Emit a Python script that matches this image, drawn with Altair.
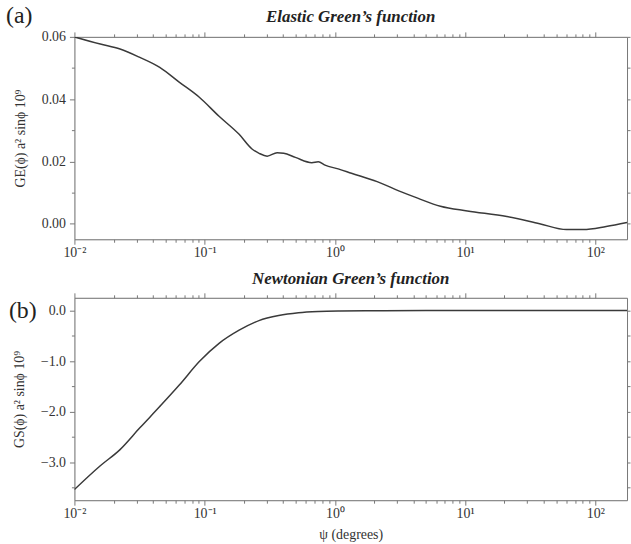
import altair as alt
import pandas as pd

# ---- data ----
ge_psi = [0.01, 0.0158, 0.0224, 0.0318, 0.0452, 0.0641, 0.091, 0.129, 0.184, 0.231,
          0.262, 0.302, 0.36, 0.405, 0.497, 0.665, 0.746, 0.84, 1.06, 1.34, 2.11,
          3.2, 4.32, 6.46, 10.4, 20.9, 37.3, 60, 80.7, 121, 175]
ge_val = [0.0600, 0.0577, 0.0561, 0.0534, 0.0502, 0.0454, 0.0406, 0.0345, 0.0287, 0.0240,
          0.0226, 0.0217, 0.0228, 0.0226, 0.0213, 0.0196, 0.0199, 0.0188, 0.0176, 0.0162,
          0.0135, 0.0103, 0.0082, 0.0056, 0.0041, 0.0023, 0.0000, -0.0019, -0.0019,
          -0.0009, 0.0004]

gs_psi = [0.01, 0.0158, 0.0224, 0.0318, 0.0452, 0.0641, 0.091, 0.129, 0.184, 0.261,
          0.37, 0.525, 0.75, 1.1, 2, 5, 20, 100, 175]
gs_val = [-3.54, -3.07, -2.75, -2.32, -1.90, -1.47, -1.01, -0.65, -0.39, -0.20,
          -0.10, -0.045, -0.02, -0.01, -0.005, 0, 0, 0, 0]

x_labels = ["10\u207b\u00b2", "10\u207b\u00b9", "10\u2070", "10\u00b9", "10\u00b2"]
ge_major = [0.0, 0.02, 0.04, 0.06]
gs_major = [-3.0, -2.0, -1.0, 0.0]

x_ticks = [k * 10.0 ** d for d in range(-2, 3) for k in range(1, 10) if k * 10.0 ** d <= 175]
ge_ticks = [0.0, 0.01, 0.02, 0.03, 0.04, 0.05, 0.06]
gs_ticks = [-3.5, -3.0, -2.5, -2.0, -1.5, -1.0, -0.5, 0.0]

FONT = "Liberation Serif"
W, H = 557, 204
XDOM = [0.01, 175]

exp_expr = "round(log(datum.value)/LN10)"
major_test = f"abs(log(datum.value)/LN10 - {exp_expr}) < 0.001"
labels_js = "[" + ",".join(f"'{l}'" for l in x_labels) + "]"
x_label_expr = f"({major_test}) ? {labels_js}[{exp_expr} + 2] : ''"


def panel(psi, val, ydom, yticks, ymajor, yfmt, ytitle, title, tag, tag_x, tag_y, show_xtitle):
    df = pd.DataFrame({"psi": psi, "val": val})
    xscale = alt.Scale(type="log", domain=XDOM, nice=False)
    yscale = alt.Scale(domain=ydom, nice=False, zero=False)
    ymajor_js = "[" + ",".join(str(v) for v in ymajor) + "]"
    y_test = f"indexof({ymajor_js}, round(datum.value*1000)/1000) >= 0"
    xaxis = alt.Axis(
        values=x_ticks, labelExpr=x_label_expr, title="\u03c8 (degrees)" if show_xtitle else None,
        grid=False, labelFont=FONT, labelFontSize=14, labelColor="#333",
        titleFont=FONT, titleFontSize=14, titleColor="#333", titleFontWeight="normal",
        domainColor="#777", tickColor="#777",
        tickSize={"condition": {"test": major_test, "value": 5}, "value": 3},
        labelPadding=1, labelFlush=False, labelOverlap=False, titlePadding=8,
    )
    yaxis = alt.Axis(
        values=yticks, format=yfmt, title=ytitle, grid=False,
        labelExpr=f"({y_test}) ? datum.label : ''",
        labelFont=FONT, labelFontSize=14, labelColor="#333",
        titleFont=FONT, titleFontSize=14, titleColor="#333", titleFontWeight="normal",
        domainColor="#777", tickColor="#777",
        tickSize={"condition": {"test": y_test, "value": 5}, "value": 3},
        labelPadding=4, titlePadding=14,
    )
    line = alt.Chart(df).mark_line(color="#3a3a3a", strokeWidth=1.5, clip=True,
                                   interpolate="monotone").encode(
        x=alt.X("psi:Q", scale=xscale, axis=xaxis),
        y=alt.Y("val:Q", scale=yscale, axis=yaxis),
    )
    mirror = alt.Chart(df).mark_line(opacity=0).encode(
        x=alt.X("psi:Q", scale=xscale, axis=alt.Axis(
            orient="top", values=x_ticks, labels=False, title=None, grid=False,
            domainColor="#777", tickColor="#777",
            tickSize={"condition": {"test": major_test, "value": 5}, "value": 3})),
        y=alt.Y("val:Q", scale=yscale, axis=alt.Axis(
            orient="right", values=yticks, labels=False, title=None, grid=False,
            domainColor="#777", tickColor="#777", tickSize=3)),
    )
    tag_df = pd.DataFrame({"t": [tag]})
    tagmark = alt.Chart(tag_df).mark_text(
        font=FONT, fontSize=24, color="#222", align="left", baseline="middle"
    ).encode(x=alt.value(tag_x), y=alt.value(tag_y), text="t:N")
    title_df = pd.DataFrame({"t": [title]})
    titlemark = alt.Chart(title_df).mark_text(
        font=FONT, fontSize=17, fontStyle="italic", fontWeight="bold", color="#222",
        align="center", baseline="middle"
    ).encode(x=alt.value(W / 2), y=alt.value(-20 if tag == "(a)" else -19), text="t:N")
    return alt.layer(line, mirror, tagmark, titlemark).resolve_axis(
        x="independent", y="independent").properties(width=W, height=H)


top = panel(ge_psi, ge_val, [-0.005, 0.06], ge_ticks, ge_major, ".2f",
            "GE(\u03d5) a\u00b2 sin\u03d5 10\u2079", "Elastic Green\u2019s function",
            "(a)", -69, -21, False)
bottom = panel(gs_psi, gs_val, [-3.75, 0.25], gs_ticks, gs_major, ".1f",
               "GS(\u03d5) a\u00b2 sin\u03d5 10\u2079", "Newtonian Green\u2019s function",
               "(b)", -66, 13, True)

chart = alt.vconcat(top, bottom, spacing=9).properties(
    padding={"left": 5, "top": 1, "right": 0, "bottom": 2}
).configure_view(stroke=None).configure(background="white")

chart.save("out.html", embed_options={"renderer": "svg", "actions": False})
